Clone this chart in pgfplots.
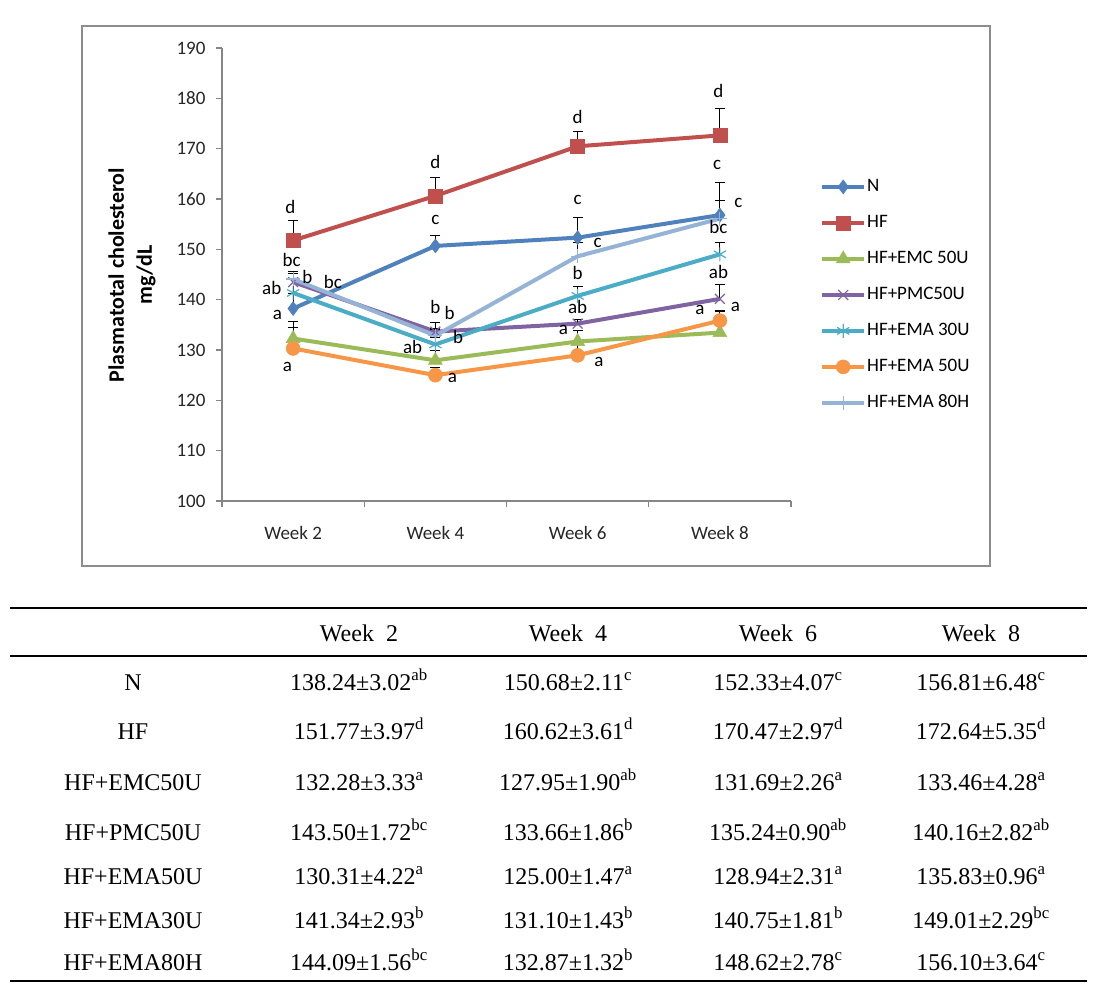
\documentclass[border=0pt]{standalone}
\usepackage{pgfplots}
\pgfplotsset{compat=1.18}
\usepackage{fontspec}
\setmainfont{Liberation Serif}
\newfontfamily\calfont{Carlito}
\definecolor{cN}{HTML}{4F81BD}
\definecolor{cHF}{HTML}{C0504D}
\definecolor{cEMC}{HTML}{9BBB59}
\definecolor{cPMC}{HTML}{8064A2}
\definecolor{cA30}{HTML}{4BACC6}
\definecolor{cA50}{HTML}{F79646}
\definecolor{cA80}{HTML}{95B3D7}
\definecolor{frame}{HTML}{8C8C8C}
\definecolor{axgray}{HTML}{868686}
\newcommand{\cf}{\calfont\fontsize{19}{23}\selectfont}
\newcommand{\tf}{\fontsize{24}{28}\selectfont}
\begin{document}
\begin{tikzpicture}[x=1pt,y=1pt]
\useasboundingbox (0,0) rectangle (1099,-991);
\draw[color=frame, line width=1.5pt] (82,-26) rectangle (990,-566);
\begin{axis}[at={(222pt,-501pt)}, anchor=south west, scale only axis,
  width=569pt, height=453pt,
  xmin=0, xmax=4, ymin=100, ymax=190,
  axis x line*=bottom, axis y line*=left,
  axis line style={color=axgray, line width=1.2pt},
  xtick={0,1,2,3,4}, x tick label as interval,
  xticklabels={Week 2, Week 4, Week 6, Week 8},
  ytick={100,110,...,190},
  tick align=outside, major tick length=6pt,
  tick style={color=axgray, line width=1.2pt},
  /pgf/number format/assume math mode=true,
  tick label style={font=\cf, color=black!85},
  xticklabel style={yshift=-16pt},
  yticklabel style={xshift=-7pt},
  legend cell align=left,
  legend style={at={(rel axis cs:1.051,0.455)}, anchor=west, draw=none, fill=none,
    font=\cf, row sep=17pt, inner sep=0pt,
    nodes={inner sep=1pt, text height=13pt, text depth=4pt}},
  legend image code/.code={\draw[mark repeat=2,mark phase=2,#1] plot coordinates {(0pt,0pt) (21pt,0pt) (42pt,0pt)};},
  every axis plot/.append style={line width=4pt},
  error bars/y dir=plus, error bars/y explicit,
  error bars/error bar style={black, line width=1.2pt, solid},
  error bars/error mark options={black, rotate=90, mark size=5pt, line width=1.2pt, solid},
  clip=false,
]
\addplot[color=cN, mark=diamond*, mark size=7pt, mark options={solid, fill=cN, draw=cN, line width=0.5pt}]
  coordinates {(0.5,138.24) +- (0,3.02) (1.5,150.68) +- (0,2.11) (2.5,152.33) +- (0,4.07) (3.5,156.81) +- (0,6.48)};
\addlegendentry{N}
\addplot[color=cHF, mark=square*, mark size=7pt, mark options={solid, fill=cHF, draw=cHF, line width=0.5pt}]
  coordinates {(0.5,151.77) +- (0,3.97) (1.5,160.62) +- (0,3.61) (2.5,170.47) +- (0,2.97) (3.5,172.64) +- (0,5.35)};
\addlegendentry{HF}
\addplot[color=cEMC, mark=triangle*, mark size=8pt, mark options={solid, fill=cEMC, draw=cEMC, line width=0.5pt}]
  coordinates {(0.5,132.28) +- (0,3.33) (1.5,127.95) +- (0,1.90) (2.5,131.69) +- (0,2.26) (3.5,133.46) +- (0,4.28)};
\addlegendentry{HF+EMC 50U}
\addplot[color=cPMC, mark=x, mark size=7pt, mark options={solid, draw=cPMC, line width=1.2pt}]
  coordinates {(0.5,143.50) +- (0,1.72) (1.5,133.66) +- (0,1.86) (2.5,135.24) +- (0,0.90) (3.5,140.16) +- (0,2.82)};
\addlegendentry{HF+PMC50U}
\addplot[color=cA30, mark=asterisk, mark size=7pt, mark options={solid, draw=cA30, line width=1.2pt}]
  coordinates {(0.5,141.34) +- (0,2.93) (1.5,131.10) +- (0,1.43) (2.5,140.75) +- (0,1.81) (3.5,149.01) +- (0,2.29)};
\addlegendentry{HF+EMA 30U}
\addplot[color=cA50, mark=*, mark size=7pt, mark options={solid, fill=cA50, draw=cA50, line width=0.5pt}]
  coordinates {(0.5,130.31) +- (0,4.22) (1.5,125.00) +- (0,1.47) (2.5,128.94) +- (0,2.31) (3.5,135.83) +- (0,0.96)};
\addlegendentry{HF+EMA 50U}
\addplot[color=cA80, mark=+, mark size=7pt, mark options={solid, draw=cA80, line width=1.2pt}]
  coordinates {(0.5,144.09) +- (0,1.56) (1.5,132.87) +- (0,1.32) (2.5,148.62) +- (0,2.78) (3.5,156.10) +- (0,3.64)};
\addlegendentry{HF+EMA 80H}
% significance letters
\begin{scope}[every node/.style={font=\cf, inner sep=0pt, text=black}]
\node at (axis cs:0.48,158.4) {d};
\node at (axis cs:0.49,147.9) {bc};
\node at (axis cs:0.35,142.3) {ab};
\node at (axis cs:0.60,144.5) {b};
\node at (axis cs:0.78,143.5) {bc};
\node at (axis cs:0.39,137.0) {a};
\node at (axis cs:0.46,126.6) {a};
\node at (axis cs:1.50,167.4) {d};
\node at (axis cs:1.50,155.8) {c};
\node at (axis cs:1.50,138.5) {b};
\node at (axis cs:1.60,137.3) {b};
\node at (axis cs:1.66,132.6) {b};
\node at (axis cs:1.34,130.6) {ab};
\node at (axis cs:1.62,124.4) {a};
\node at (axis cs:2.50,176.3) {d};
\node at (axis cs:2.50,159.8) {c};
\node at (axis cs:2.64,151.3) {c};
\node at (axis cs:2.50,145.3) {b};
\node at (axis cs:2.50,138.5) {ab};
\node at (axis cs:2.40,134.0) {a};
\node at (axis cs:2.65,127.6) {a};
\node at (axis cs:3.49,181.4) {d};
\node at (axis cs:3.48,166.8) {c};
\node at (axis cs:3.63,159.2) {c};
\node at (axis cs:3.49,154.4) {bc};
\node at (axis cs:3.49,145.5) {ab};
\node at (axis cs:3.36,137.9) {a};
\node at (axis cs:3.61,138.5) {a};
\end{scope}
\end{axis}
\node[rotate=90, align=center, font=\calfont\bfseries\fontsize{22}{28}\selectfont] at (132,-275) {Plasmatotal cholesterol\\mg/dL};
% table
\draw[line width=1.5pt] (10,-608) -- (1087,-608);
\draw[line width=1.5pt] (10,-656) -- (1087,-656);
\draw[line width=1.5pt] (10,-981) -- (1087,-981);
\begin{scope}[every node/.style={font=\tf, anchor=base, inner sep=0pt}]
\node at (359,-641) {Week\ \ 2};
\node at (568,-641) {Week\ \ 4};
\node at (778,-641) {Week\ \ 6};
\node at (981,-641) {Week\ \ 8};
\node at (133,-690) {N};
\node at (359,-690) {138.24±3.02\textsuperscript{ab}};
\node at (568,-690) {150.68±2.11\textsuperscript{c}};
\node at (778,-690) {152.33±4.07\textsuperscript{c}};
\node at (981,-690) {156.81±6.48\textsuperscript{c}};
\node at (133,-739) {HF};
\node at (359,-739) {151.77±3.97\textsuperscript{d}};
\node at (568,-739) {160.62±3.61\textsuperscript{d}};
\node at (778,-739) {170.47±2.97\textsuperscript{d}};
\node at (981,-739) {172.64±5.35\textsuperscript{d}};
\node at (133,-790) {HF+EMC50U};
\node at (359,-790) {132.28±3.33\textsuperscript{a}};
\node at (568,-790) {127.95±1.90\textsuperscript{ab}};
\node at (778,-790) {131.69±2.26\textsuperscript{a}};
\node at (981,-790) {133.46±4.28\textsuperscript{a}};
\node at (133,-840) {HF+PMC50U};
\node at (359,-840) {143.50±1.72\textsuperscript{bc}};
\node at (568,-840) {133.66±1.86\textsuperscript{b}};
\node at (778,-840) {135.24±0.90\textsuperscript{ab}};
\node at (981,-840) {140.16±2.82\textsuperscript{ab}};
\node at (133,-884) {HF+EMA50U};
\node at (359,-884) {130.31±4.22\textsuperscript{a}};
\node at (568,-884) {125.00±1.47\textsuperscript{a}};
\node at (778,-884) {128.94±2.31\textsuperscript{a}};
\node at (981,-884) {135.83±0.96\textsuperscript{a}};
\node at (133,-928) {HF+EMA30U};
\node at (359,-928) {141.34±2.93\textsuperscript{b}};
\node at (568,-928) {131.10±1.43\textsuperscript{b}};
\node at (778,-928) {140.75±1.81\textsuperscript{b}};
\node at (981,-928) {149.01±2.29\textsuperscript{bc}};
\node at (133,-970) {HF+EMA80H};
\node at (359,-970) {144.09±1.56\textsuperscript{bc}};
\node at (568,-970) {132.87±1.32\textsuperscript{b}};
\node at (778,-970) {148.62±2.78\textsuperscript{c}};
\node at (981,-970) {156.10±3.64\textsuperscript{c}};
\end{scope}
\end{tikzpicture}
\end{document}
